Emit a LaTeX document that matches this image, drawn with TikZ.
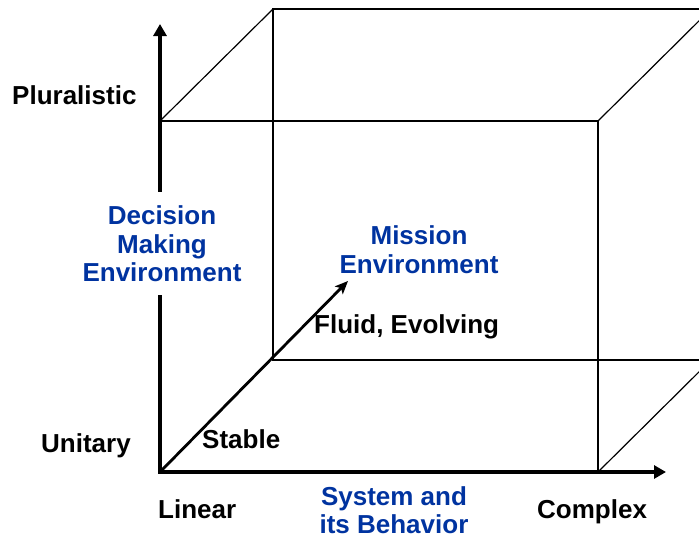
\documentclass[tikz,border=0pt]{standalone}
\usepackage{fontspec}
\setmainfont{Liberation Sans}
\usetikzlibrary{arrows.meta}
\definecolor{labelblue}{RGB}{0,51,160}
\begin{document}
\begin{tikzpicture}[x=1pt,y=-1pt,
  edge/.style={line width=1.2pt,black},
  axis/.style={line width=4pt,-{Triangle[length=12pt,width=13pt]}},
  trend/.style={line width=2.8pt,-{Stealth[length=13pt,width=11pt,inset=3pt]}},
  lbl/.style={font=\fontsize{26}{28.5}\selectfont\bfseries,inner sep=0pt},
  blbl/.style={lbl,text=labelblue,align=center}]
\useasboundingbox (0,0) rectangle (699,538);
% front face corners
\coordinate (ftl) at (160,121);
\coordinate (ftr) at (598,121);
\coordinate (fbr) at (598,472);
\coordinate (fbl) at (160,472);
% back face corners (offset up and to the right)
\coordinate (btl) at (273,9);
\coordinate (btr) at (711,9);
\coordinate (bbr) at (711,360);
\coordinate (bbl) at (273,360);
% axis tips
\coordinate (ytip) at (160,24);
\coordinate (xtip) at (666,472);
\coordinate (ztip) at (348,281);
\begin{scope}
  \clip (0,0) rectangle (699,538);
  \draw[edge] (btl) -- (btr) -- (bbr) -- (bbl) -- cycle;
  \draw[edge] (ftl) -- (ftr) -- (fbr);
  \draw[edge] (ftl) -- (btl);
  \draw[edge] (ftr) -- (btr);
  \draw[edge] (fbr) -- (bbr);
\end{scope}
% axes
\draw[axis] (fbl) -- (ytip);
\draw[axis] ([xshift=-2pt]fbl) -- (xtip);
\draw[trend] (fbl) -- (ztip);
% labels
\node[lbl,anchor=base west] (plural) at (12,104) {Pluralistic};
\node[lbl,anchor=base west] (unitary) at (41,452) {Unitary};
\node[lbl,anchor=base west] (stable) at (202,448) {Stable};
\node[lbl,anchor=base west] (fluid) at (314,333) {Fluid, Evolving};
\node[lbl,anchor=base west] (linear) at (158,518) {Linear};
\node[lbl,anchor=base west] (complex) at (537,518) {Complex};
% the vertical axis title sits on a white patch that hides the axis behind it
\node[blbl,anchor=base,fill=white,inner ysep=13.5pt,inner xsep=2pt] (decision) at (162,281.5) {Decision\\Making\\Environment};
\node[blbl,anchor=base] (mission) at (419,273) {Mission\\Environment};
\node[blbl,anchor=base] (system) at (394,533.5) {System and\\its Behavior};
\end{tikzpicture}
\end{document}
